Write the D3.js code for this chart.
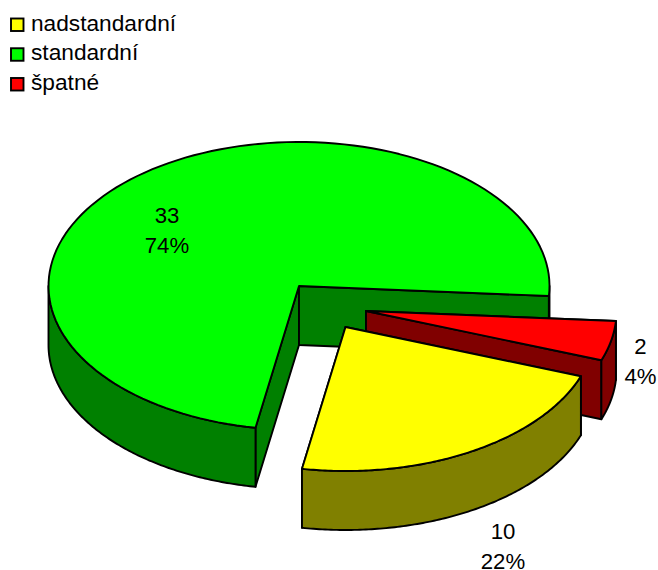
<!DOCTYPE html>
<html>
<head>
<meta charset="utf-8">
<script src="https://cdnjs.cloudflare.com/ajax/libs/d3/7.8.5/d3.min.js"></script>
<style>
  html, body { margin: 0; padding: 0; background: #fff; }
  text { font-family: "Liberation Sans", Arial, sans-serif; fill: #000; }
</style>
</head>
<body>
<svg id="chart" width="658" height="570"></svg>
<script>
// Chart data
const categories = ["nadstandardní", "standardní", "špatné"];
const counts = [10, 33, 2];
const percentLabels = ["22%", "74%", "4%"];

// Colours per category
const topColours = ["#ffff00", "#00ff00", "#ff0000"];
const wallColours = ["#808000", "#008000", "#800000"];

// Tilted pie geometry
const centre = { x: 299, y: 286 };
const rx = 250.5, ry = 144, depth = 59;
const firstAngle = (90 + 20) * Math.PI / 180;
const explode = [{ x: 46.5, y: 41 }, { x: 0, y: 0 }, { x: 67, y: 25 }];
const labelAnchors = [{ x: 503, y: 532 }, { x: 167, y: 216 }, { x: 640.5, y: 347 }];

const svg = d3.select("#chart");
const pie = d3.pie().sort(null).value(d => d)
  .startAngle(firstAngle).endAngle(firstAngle + 2 * Math.PI);
const arcs = pie(counts);

// Angle on the pie (clockwise from 12 o'clock) to a point on the flattened rim
const rim = (a, i, drop = 0) => [
  centre.x + explode[i].x + rx * Math.sin(a),
  centre.y + explode[i].y - ry * Math.cos(a) + drop
];
const apex = (i, drop = 0) => [centre.x + explode[i].x, centre.y + explode[i].y + drop];

const line = d3.line();
const closed = pts => line(pts) + "Z";
const sweep = (a0, a1) => d3.range(0, 121).map(k => a0 + (a1 - a0) * k / 120);

function polygon(pts, fill) {
  svg.append("path")
    .attr("d", closed(pts))
    .attr("fill", fill)
    .attr("stroke", "#000")
    .attr("stroke-width", 1.9)
    .attr("stroke-linejoin", "round");
}

// Rim wall, only for the stretch of the arc facing the viewer (pie angles 90°..270°)
function outerWall(d, i) {
  const lo = Math.PI / 2, hi = 3 * Math.PI / 2;
  const spans = [[lo, hi], [lo + 2 * Math.PI, hi + 2 * Math.PI]];
  spans.forEach(([s, e]) => {
    const a0 = Math.max(d.startAngle, s), a1 = Math.min(d.endAngle, e);
    if (a1 <= a0) return;
    const angles = sweep(a0, a1);
    polygon(
      angles.map(a => rim(a, i)).concat(angles.slice().reverse().map(a => rim(a, i, depth))),
      wallColours[i]
    );
  });
}

// Flat wall along one cut edge of the wedge
function cutWall(a, i) {
  polygon([apex(i), rim(a, i), rim(a, i, depth), apex(i, depth)], wallColours[i]);
}

function topFace(d, i) {
  polygon([apex(i)].concat(sweep(d.startAngle, d.endAngle).map(a => rim(a, i))), topColours[i]);
}

// Painted back to front: green, then red, then yellow
const paintOrder = [1, 2, 0];
paintOrder.forEach(i => {
  const d = arcs[i];
  cutWall(d.startAngle, i);
  cutWall(d.endAngle, i);
  outerWall(d, i);
  topFace(d, i);
});

// Value and percentage labels
categories.forEach((c, i) => {
  const t = svg.append("text")
    .attr("text-anchor", "middle")
    .attr("font-size", 22.2);
  t.append("tspan").attr("x", labelAnchors[i].x).attr("y", labelAnchors[i].y + 7).text(counts[i]);
  t.append("tspan").attr("x", labelAnchors[i].x).attr("y", labelAnchors[i].y + 37).text(percentLabels[i]);
});

// Legend
const legendY = d3.scalePoint().domain(categories).range([24.5, 84]);
const legend = svg.selectAll("g.legend").data(categories).join("g")
  .attr("class", "legend")
  .attr("transform", d => `translate(0,${legendY(d)})`);
legend.append("rect")
  .attr("x", 11).attr("y", -6).attr("width", 12.5).attr("height", 12.5)
  .attr("fill", (d, i) => topColours[i])
  .attr("stroke", "#000").attr("stroke-width", 1.9);
legend.append("text")
  .attr("x", 31).attr("y", 6)
  .attr("font-size", 22.7)
  .text(d => d);
</script>
</body>
</html>
